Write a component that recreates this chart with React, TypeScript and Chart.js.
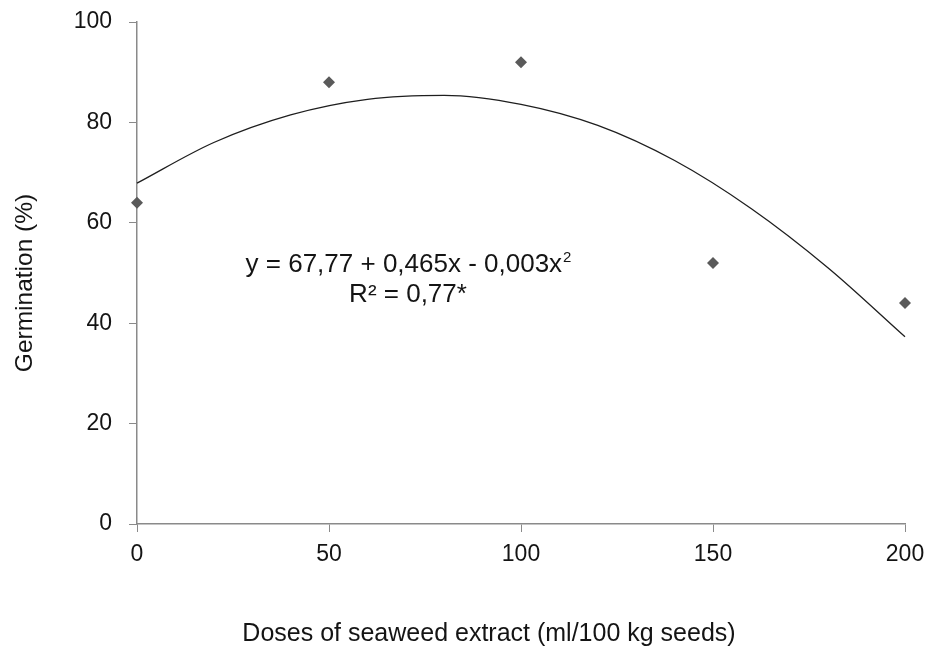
import React, { useEffect, useRef } from "react";
import { Chart, registerables } from "chart.js";

Chart.register(...registerables);

const doses = [0, 50, 100, 150, 200];
const germination = [64, 88, 92, 52, 44];

const curveX = [0, 20, 40, 60, 80, 100, 120, 140, 160, 180, 200];
const curveY = [67.9, 76.0, 81.5, 84.6, 85.4, 83.6, 79.4, 72.4, 62.8, 51.0, 37.3];

const xTitle = "Doses of seaweed extract (ml/100 kg seeds)";
const yTitle = "Germination (%)";
const eqMain = "y = 67,77 + 0,465x - 0,003x";
const eqSup = "2";
const r2Text = "R² = 0,77*";

const FONT = "'Liberation Sans', Arial, sans-serif";
const TEXT = "#141414";
const AXIS = "#8a8a8a";

const textPlugin = {
  id: "customText",
  afterDraw(chart: any) {
    const { ctx, chartArea } = chart;
    ctx.save();
    ctx.fillStyle = TEXT;
    ctx.textBaseline = "middle";
    // x title
    ctx.font = `25px ${FONT}`;
    ctx.textAlign = "center";
    ctx.fillText(xTitle, chartArea.left + 352, chartArea.bottom + 110);
    // y title
    ctx.save();
    ctx.translate(25, chartArea.top + 261);
    ctx.rotate(-Math.PI / 2);
    ctx.font = `24.5px ${FONT}`;
    ctx.fillText(yTitle, 0, 0);
    ctx.restore();
    // equation
    ctx.font = `26px ${FONT}`;
    const w1 = ctx.measureText(eqMain).width;
    ctx.font = `15px ${FONT}`;
    const w2 = ctx.measureText(eqSup).width;
    const cx = chartArea.left + 271;
    const y1 = chartArea.top + 243;
    const start = cx - (w1 + w2) / 2;
    ctx.textAlign = "left";
    ctx.font = `26px ${FONT}`;
    ctx.fillText(eqMain, start, y1);
    ctx.font = `15px ${FONT}`;
    ctx.fillText(eqSup, start + w1 + 1, y1 - 7);
    ctx.font = `26px ${FONT}`;
    ctx.textAlign = "center";
    ctx.fillText(r2Text, cx, chartArea.top + 273);
    ctx.restore();
  },
};

export default function App() {
  const ref = useRef<HTMLCanvasElement | null>(null);
  useEffect(() => {
    if (!ref.current) return;
    const chart = new Chart(ref.current, {
      type: "scatter",
      data: {
        datasets: [
          {
            label: "Fit",
            data: curveX.map((x, i) => ({ x, y: curveY[i] })),
            showLine: true,
            borderColor: "#1e1e1e",
            borderWidth: 1.3,
            pointRadius: 0,
            cubicInterpolationMode: "monotone",
            clip: false,
            order: 2,
          } as any,
          {
            label: "Germination",
            data: doses.map((x, i) => ({ x, y: germination[i] })),
            pointStyle: "rectRot",
            pointRadius: 6,
            backgroundColor: "#5a5a5a",
            borderColor: "#5a5a5a",
            borderWidth: 0,
            clip: false,
            order: 1,
          } as any,
        ],
      },
      options: {
        animation: false,
        responsive: false,
        devicePixelRatio: 1,
        layout: { autoPadding: false, padding: { top: 22, right: 21, left: 0, bottom: 0 } },
        plugins: { legend: { display: false }, tooltip: { enabled: false } },
        scales: {
          x: {
            type: "linear",
            min: 0,
            max: 200,
            afterFit: (s: any) => {
              s.height = 126;
              s.paddingLeft = 0;
              s.paddingRight = 0;
              s.paddingTop = 0;
              s.paddingBottom = 0;
            },
            ticks: {
              stepSize: 50,
              color: TEXT,
              padding: 9,
              font: { family: FONT, size: 23 },
            },
            grid: {
              drawOnChartArea: false,
              drawTicks: true,
              tickLength: 8,
              color: AXIS,
            },
            border: { color: AXIS, width: 1.5 },
          },
          y: {
            min: 0,
            max: 100,
            afterFit: (s: any) => {
              s.width = 137;
              s.paddingLeft = 0;
              s.paddingRight = 0;
              s.paddingTop = 0;
              s.paddingBottom = 0;
            },
            ticks: {
              stepSize: 20,
              color: TEXT,
              padding: 17,
              font: { family: FONT, size: 23 },
            },
            grid: {
              drawOnChartArea: false,
              drawTicks: true,
              tickLength: 8,
              color: AXIS,
            },
            border: { color: AXIS, width: 1.5 },
          },
        },
      },
      plugins: [textPlugin],
    });
    return () => chart.destroy();
  }, []);
  return (
    <div style={{ position: "absolute", left: 0, top: 0, width: 926, height: 650, background: "#fff" }}>
      <canvas ref={ref} width={926} height={650} />
    </div>
  );
}
